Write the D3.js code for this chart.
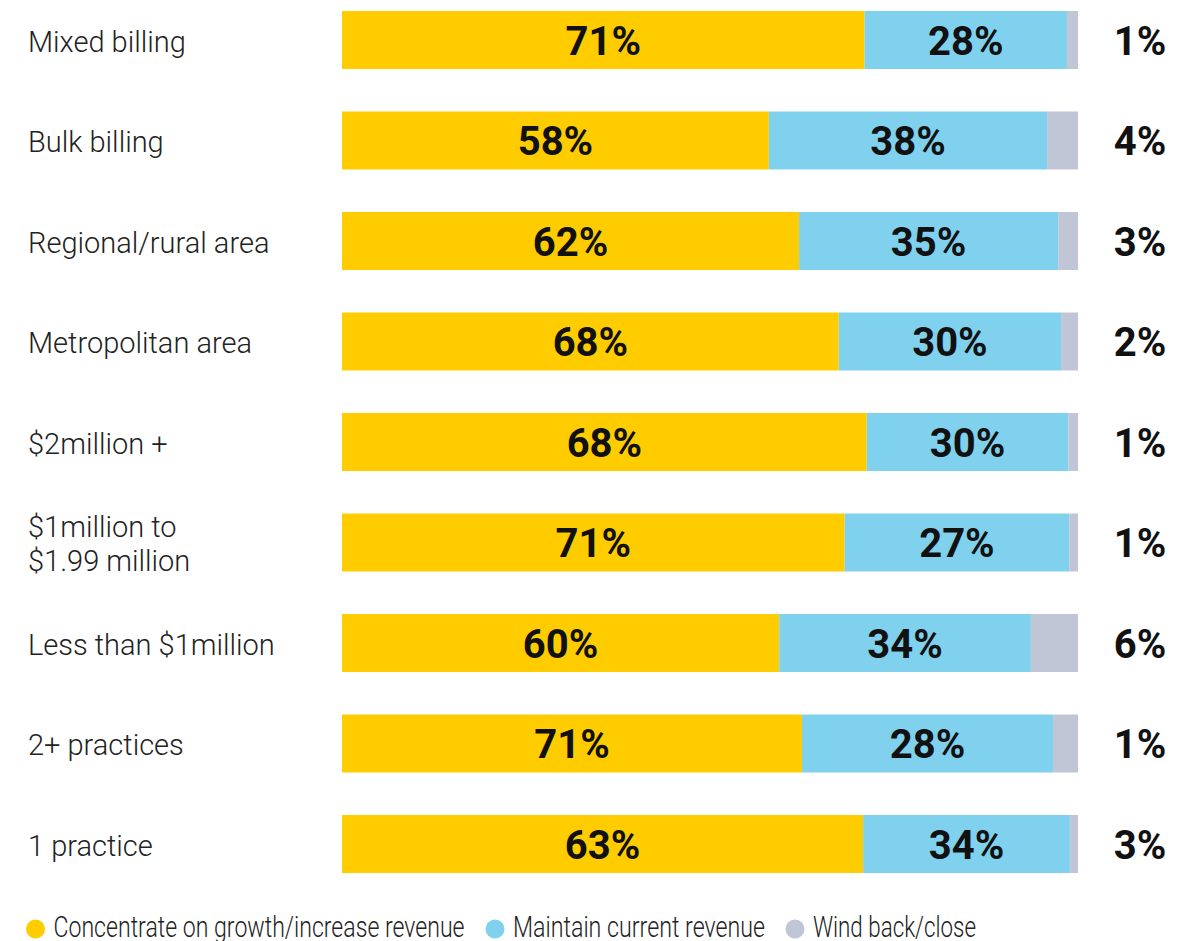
<!DOCTYPE html>
<html>
<head>
<meta charset="utf-8">
<script src="https://cdn.jsdelivr.net/npm/d3@7"></script>
<style>
  body { margin: 0; background: #fff; }
  svg { display: block; }
</style>
</head>
<body>
<script>
// row categories, top to bottom
const categories = ['Mixed billing', 'Bulk billing', 'Regional/rural area', 'Metropolitan area',
    '$2million +', '$1million to\n$1.99 million', 'Less than $1million', '2+ practices', '1 practice'];

// segment widths as drawn (share of the bar)
const growth   = [71.0, 58.0, 62.1, 67.5, 71.3, 68.3, 59.4, 62.5, 70.8];
const maintain = [27.5, 37.8, 35.2, 30.2, 27.4, 30.5, 34.2, 34.1, 28.1];
const windBack = [1.5, 4.2, 2.7, 2.3, 1.3, 1.2, 6.4, 3.4, 1.1];

// printed labels
const growthLabels   = ['71%', '58%', '62%', '68%', '68%', '71%', '60%', '71%', '63%'];
const maintainLabels = ['28%', '38%', '35%', '30%', '30%', '27%', '34%', '28%', '34%'];
const windLabels     = ['1%', '4%', '3%', '2%', '1%', '1%', '6%', '1%', '3%'];

const seriesNames = ['Concentrate on growth/increase revenue', 'Maintain current revenue', 'Wind back/close'];
const colors = ['#ffcc00', '#80d1ee', '#c0c6d6'];

const width = 1198, height = 941;

const svg = d3.select('body').append('svg')
    .attr('width', width)
    .attr('height', height);

const rows = categories.map((c, i) => ({
    cat: c,
    vals: [growth[i], maintain[i], windBack[i]],
    labels: [growthLabels[i], maintainLabels[i]],
    right: windLabels[i]
}));

const x = d3.scaleLinear().domain([0, 100]).range([342, 1078]);
const y = d3.scaleBand().domain(categories).range([11, 873]).paddingInner(0.423).paddingOuter(0);

const row = svg.selectAll('g.row')
    .data(rows)
    .enter().append('g')
    .attr('class', 'row')
    .attr('transform', d => 'translate(0,' + y(d.cat) + ')');

row.each(function(d) {
    const g = d3.select(this);
    let acc = 0;
    const segs = d.vals.map((v, k) => {
        const s = { k: k, x0: acc, x1: acc + v };
        acc += v;
        return s;
    });
    g.selectAll('rect')
        .data(segs)
        .enter().append('rect')
        .attr('x', s => x(s.x0))
        .attr('width', s => x(s.x1) - x(s.x0))
        .attr('y', 0)
        .attr('height', y.bandwidth())
        .attr('fill', s => colors[s.k]);

    g.selectAll('text.pct')
        .data(segs.slice(0, 2))
        .enter().append('text')
        .attr('class', 'pct')
        .attr('x', s => (x(s.x0) + x(s.x1)) / 2)
        .attr('y', y.bandwidth() / 2 + 15)
        .attr('text-anchor', 'middle')
        .style('font', 'bold 40px Roboto')
        .style('fill', '#111')
        .text(s => d.labels[s.k]);

    g.append('text')
        .attr('x', 1140)
        .attr('y', y.bandwidth() / 2 + 15)
        .attr('text-anchor', 'middle')
        .style('font', 'bold 40px Roboto')
        .style('fill', '#111')
        .text(d.right);

    // category label, may wrap to two lines
    const lines = d.cat.split('\n');
    const t = g.append('text')
        .attr('x', 28)
        .style('font', '300 29px Roboto')
        .style('fill', '#222');
    lines.forEach((l, j) => {
        t.append('tspan')
            .attr('x', 28)
            .attr('y', lines.length === 1 ? y.bandwidth() / 2 + 12 : y.bandwidth() / 2 - 6 + j * 35)
            .text(l);
    });
});

// legend (condensed face in the original, squeezed here)
const legendX = [35.5, 495, 795];
const legendW = [411, 252, 163];
const legend = svg.selectAll('g.legend')
    .data(seriesNames)
    .enter().append('g')
    .attr('class', 'legend')
    .attr('transform', (d, i) => 'translate(' + legendX[i] + ',929)');

legend.append('circle')
    .attr('r', 9.5)
    .attr('fill', (d, i) => colors[i]);

legend.append('text')
    .attr('x', 18)
    .attr('y', 8)
    .attr('textLength', (d, i) => legendW[i])
    .attr('lengthAdjust', 'spacingAndGlyphs')
    .style('font', '300 29px Roboto')
    .style('fill', '#222')
    .text(d => d);
</script>
</body>
</html>
